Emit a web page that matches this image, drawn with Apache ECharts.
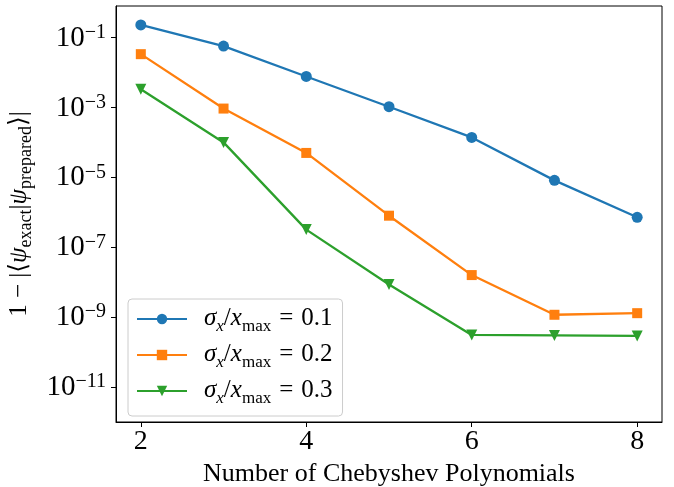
<!DOCTYPE html>
<html>
<head>
<meta charset="utf-8">
<script src="https://cdn.jsdelivr.net/npm/echarts@6/dist/echarts.min.js"></script>
<style>html,body{margin:0;padding:0;background:#fff}#c{width:674px;height:487px}</style>
</head>
<body>
<div id="c"></div>
<script>
// ---- data ----
const nPoly = [2, 3, 4, 5, 6, 7, 8];
const sigma01 = [0.23, 0.057, 7.7e-3, 1.05e-3, 1.39e-4, 8.2e-6, 7.2e-7];
const sigma02 = [0.0335, 9.3e-4, 5.0e-5, 8.0e-7, 1.6e-8, 1.17e-9, 1.3e-9];
const sigma03 = [3.3e-3, 1.0e-4, 3.2e-7, 8.6e-9, 3.1e-10, 3.0e-10, 2.9e-10];
const sigmaValues = ['0.1', '0.2', '0.3'];
const xTicks = [2, 4, 6, 8];
const yTickExponents = [-11, -9, -7, -5, -3, -1];
const yMin = 1e-12, yMax = 0.8;
const xMin = 1.7, xMax = 8.3;

const colors = ['#1f77b4', '#ff7f0e', '#2ca02c'];
const symbols = ['circle', 'rect', 'triangle'];
const rotates = [0, 0, 180];
const sizes = [11, 10, 11];
const seriesData = [sigma01, sigma02, sigma03];
const FONT = '"Liberation Serif", "DejaVu Serif", serif';

const chart = echarts.init(document.getElementById('c'), null, {renderer: 'canvas'});

const series = seriesData.map((vals, i) => ({
  name: 'sigma ' + sigmaValues[i],
  type: 'line',
  yAxisIndex: 0,
  data: nPoly.map((x, j) => [x, vals[j]]),
  symbol: symbols[i],
  symbolSize: sizes[i],
  symbolRotate: rotates[i],
  color: colors[i],
  lineStyle: {width: 2.3, color: colors[i]},
  itemStyle: {color: colors[i]},
  emphasis: {disabled: true},
  animation: false
}));

const subStyle = (size, italic) => ({fontFamily: FONT, fontSize: size, fontStyle: italic ? 'italic' : 'normal', color: '#000', lineHeight: size, verticalAlign: 'bottom', padding: [0, 0, -4, 0]});

chart.setOption({
  animation: false,
  grid: {left: 116, right: 12, top: 6, bottom: 65, show: true, borderColor: '#000', borderWidth: 1, containLabel: false, outerBoundsMode: 'none'},
  xAxis: {
    type: 'value', min: xMin, max: xMax,
    splitLine: {show: false},
    axisLine: {show: true, lineStyle: {color: '#000', width: 1}},
    axisTick: {show: true, length: 5, customValues: xTicks, lineStyle: {color: '#000'}},
    axisLabel: {customValues: xTicks, color: '#000', fontFamily: FONT, fontSize: 28, margin: 6},
    name: 'Number of Chebyshev Polynomials',
    nameLocation: 'middle', nameGap: 36,
    nameTextStyle: {color: '#000', fontFamily: FONT, fontSize: 26}
  },
  yAxis: [
    {
      type: 'log', logBase: 10, min: yMin, max: yMax, position: 'left',
      splitLine: {show: false}, axisLine: {show: false}, axisTick: {show: false}, axisLabel: {show: false}
    },
    {
      type: 'value', min: Math.log10(yMin), max: Math.log10(yMax), position: 'left',
      splitLine: {show: false},
      axisLine: {show: true, lineStyle: {color: '#000', width: 1}},
      axisTick: {show: true, length: 5, customValues: yTickExponents, lineStyle: {color: '#000'}},
      axisLabel: {
        customValues: yTickExponents, margin: 10,
        formatter: v => '{b|10}{s|\u2212' + Math.abs(v) + '}',
        rich: {
          b: {fontFamily: FONT, fontSize: 29, color: '#000', lineHeight: 30, verticalAlign: 'bottom'},
          s: {fontFamily: FONT, fontSize: 20, color: '#000', lineHeight: 20, verticalAlign: 'top'}
        }
      },
      name: '{a|1 \u2212 |\u27E8}{i|\u03C8}{sub|exact}{a||}{i|\u03C8}{sub|prepared}{a|\u27E9|}',
      nameLocation: 'middle', nameRotate: 90, nameGap: 84,
      nameTextStyle: {
        rich: {
          a: {fontFamily: FONT, fontSize: 25, color: '#000', lineHeight: 28, verticalAlign: 'bottom'},
          i: {fontFamily: FONT, fontSize: 25, fontStyle: 'italic', color: '#000', lineHeight: 28, verticalAlign: 'bottom'},
          sub: subStyle(18, false)
        }
      }
    }
  ],
  legend: {
    orient: 'vertical', left: 128, top: 299,
    itemWidth: 50, itemHeight: 13, itemGap: 7,
    padding: [7, 10, 9, 8],
    borderColor: '#cccccc', borderWidth: 1, borderRadius: 4,
    backgroundColor: 'rgba(255,255,255,0.8)',
    selectedMode: false,
    formatter: name => {
      const v = name.split(' ')[1];
      return '{i|\u03C3}{subi|x}{a|/}{i|x}{sub|max}{eq|=}{a|' + v + '}';
    },
    textStyle: {
      padding: [0, 0, 0, 12],
      rich: {
        a: {fontFamily: FONT, fontSize: 25, color: '#000', lineHeight: 24, verticalAlign: 'bottom'},
        eq: {fontFamily: FONT, fontSize: 25, color: '#000', lineHeight: 24, verticalAlign: 'bottom', padding: [0, 8, 0, 8]},
        i: {fontFamily: FONT, fontSize: 25, fontStyle: 'italic', color: '#000', lineHeight: 24, verticalAlign: 'bottom'},
        sub: subStyle(17, false),
        subi: subStyle(17, true)
      }
    },
    data: series.map(s => s.name)
  },
  series: series
});
</script>
</body>
</html>
